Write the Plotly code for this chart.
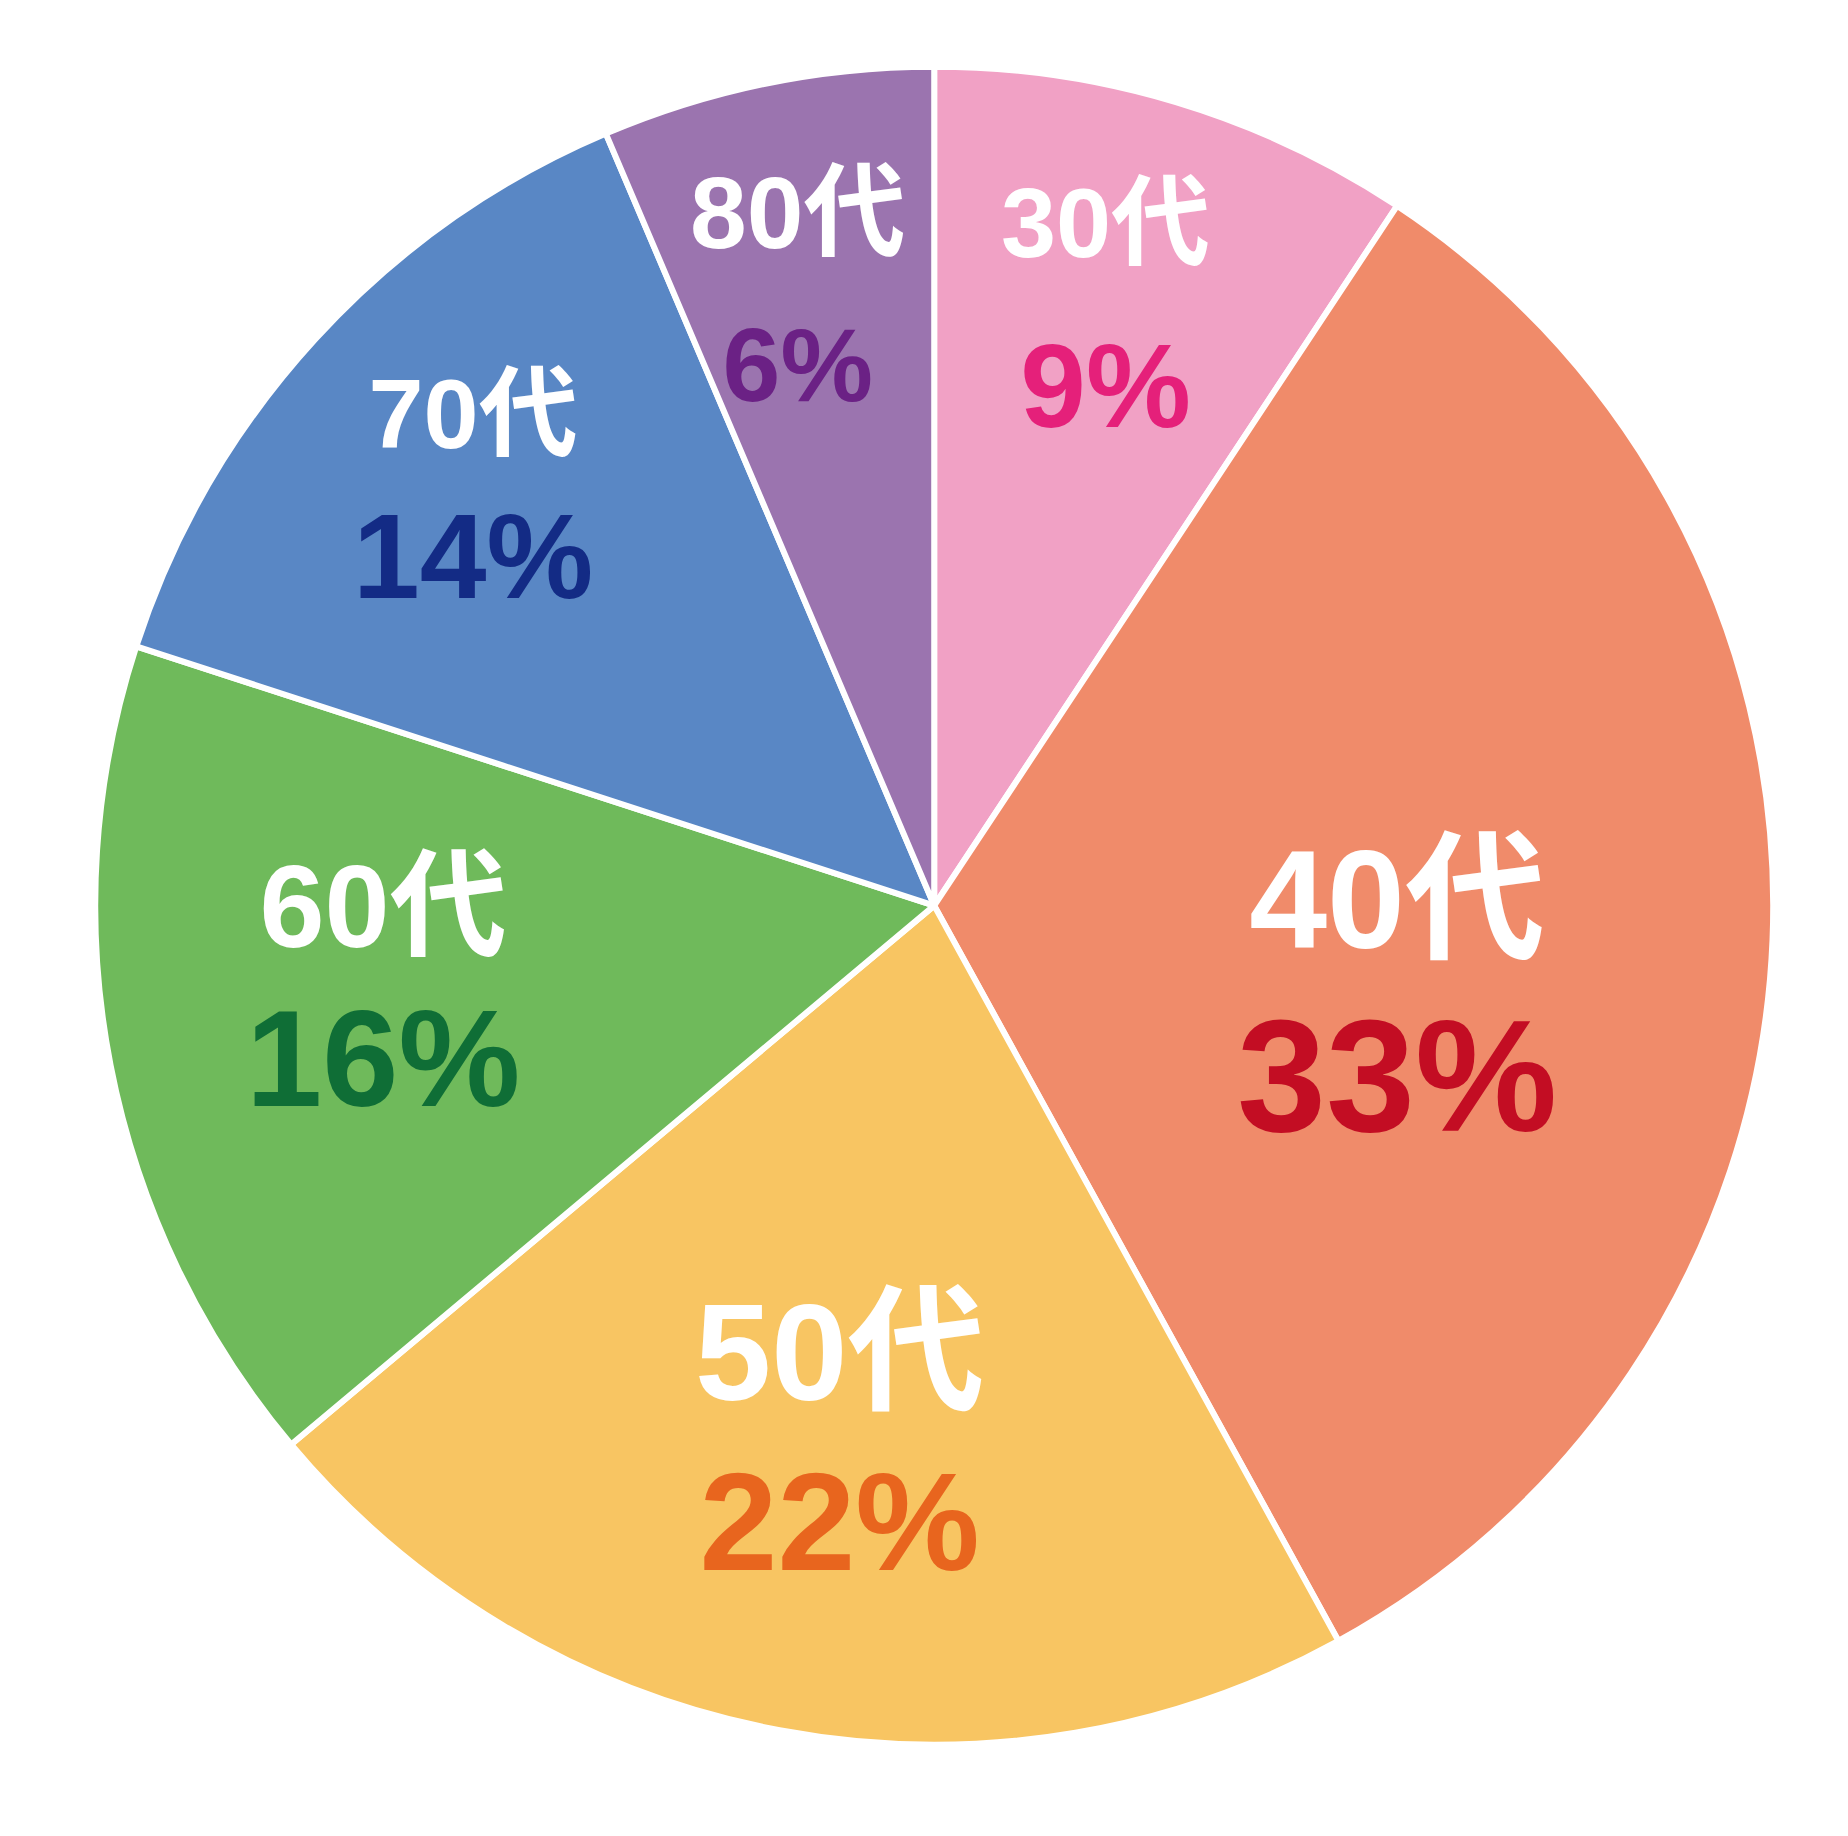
import math
import plotly.graph_objects as go

categories = ["30代", "40代", "50代", "60代", "70代", "80代"]
values = [9.3, 32.7, 21.9, 16.1, 13.6, 6.4]

# styles
slice_colors = ["#F1A1C5", "#F08B6A", "#F8C562", "#6FBA5B", "#5987C5", "#9B74AF"]
pct_colors = ["#E5207A", "#C30D23", "#E8651E", "#0F6E36", "#132B85", "#6B2185"]
label_sizes = [99, 140, 137, 117, 99, 102]
pct_sizes = [118, 160, 140, 137, 120, 104]
line_base = [131, 141, 131, 122, 115, 118]
# label placement (fraction of radius, angular shift from slice middle in degrees, pixel nudge)
label_r = [0.745, 0.561, 0.638, 0.663, 0.737, 0.752]
label_shift = [-0.85, 7.95, -0.45, 3.17, -0.76, -1.0]
label_yshift = [-5, -3, -5, -7, 4, 0]

FONT = "Liberation Sans, Arial, Noto Sans CJK JP"

dom_x = [0.0472, 0.9552]
dom_y = [0.0541, 0.9681]

fig = go.Figure()
fig.add_trace(
    go.Pie(
        labels=categories,
        values=values,
        textinfo="none",
        sort=False,
        direction="clockwise",
        rotation=0,
        marker=dict(colors=slice_colors, line=dict(color="#FFFFFF", width=6)),
        showlegend=False,
        hoverinfo="skip",
        domain=dict(x=dom_x, y=dom_y),
    )
)
# invisible axes sharing the pie's square, used to place the labels
fig.add_trace(go.Scatter(x=[-1, 1], y=[-1, 1], mode="markers",
                         marker=dict(opacity=0), showlegend=False, hoverinfo="skip"))

total = sum(values)
cum = 0
for lab, v, c, ls, ps, lb, lr, sh, ysh in zip(categories, values, pct_colors, label_sizes,
                                              pct_sizes, line_base, label_r, label_shift,
                                              label_yshift):
    mid = (cum + v / 2) / total * 360 + sh
    cum += v
    th = math.radians(mid)
    pct = round(v / total * 100)
    fig.add_annotation(
        x=lr * math.sin(th),
        y=lr * math.cos(th),
        xref="x",
        yref="y",
        yshift=ysh,
        text=(f"<span style='font-size:{ls}px;color:#FFFFFF'>{lab}</span><br>"
              f"<span style='font-size:{ps}px;color:{c}'>{pct}%</span>"),
        showarrow=False,
        xanchor="center",
        yanchor="middle",
        align="center",
        font=dict(family=FONT, size=lb, color="#FFFFFF", weight="bold"),
    )

fig.update_layout(
    width=1848,
    height=1836,
    margin=dict(l=0, r=0, t=0, b=0),
    paper_bgcolor="#FFFFFF",
    plot_bgcolor="rgba(0,0,0,0)",
    xaxis=dict(domain=dom_x, range=[-1, 1], visible=False, fixedrange=True),
    yaxis=dict(domain=dom_y, range=[-1, 1], visible=False, fixedrange=True),
)

fig.write_html("out.html")
